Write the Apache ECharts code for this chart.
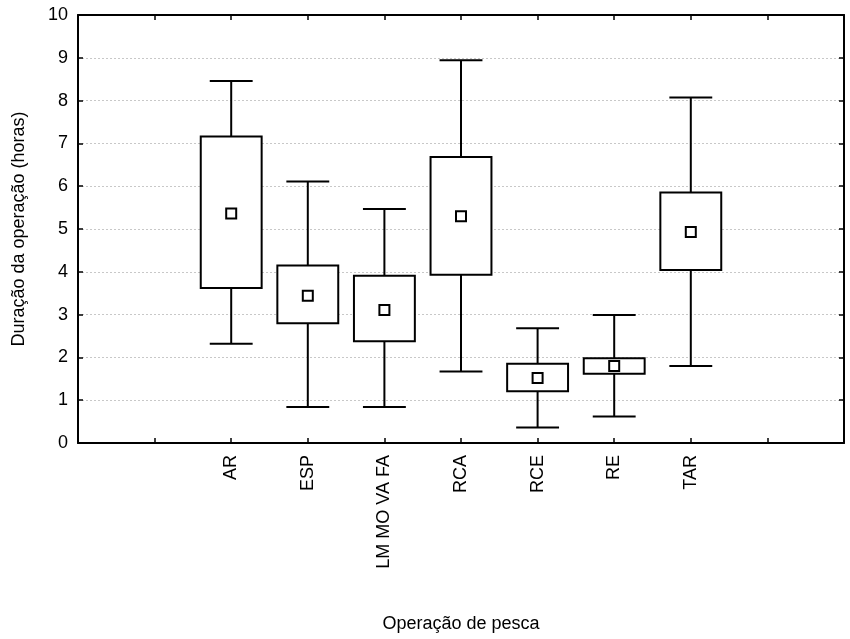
<!DOCTYPE html>
<html>
<head>
<meta charset="utf-8">
<script src="https://cdn.jsdelivr.net/npm/echarts@6/dist/echarts.min.js"></script>
<style>
html,body{margin:0;padding:0;background:#fff;}
#chart{width:850px;height:639px;}
</style>
</head>
<body>
<div id="chart"></div>
<script>
// Data
var categories = ['AR', 'ESP', 'LM MO VA FA', 'RCA', 'RCE', 'RE', 'TAR'];
var whiskerLow  = [2.32, 0.84, 0.84, 1.67, 0.36, 0.62, 1.80];
var boxLow      = [3.62, 2.80, 2.38, 3.93, 1.21, 1.62, 4.04];
var centerMark  = [5.36, 3.44, 3.11, 5.30, 1.52, 1.80, 4.93];
var boxHigh     = [7.16, 4.15, 3.91, 6.68, 1.85, 1.98, 5.85];
var whiskerHigh = [8.46, 6.11, 5.47, 8.94, 2.68, 2.99, 8.07];
var yTicks = [0, 1, 2, 3, 4, 5, 6, 7, 8, 9, 10];

var padBefore = 2, padAfter = 2;
var axisCats = [];
for (var i = 0; i < padBefore; i++) axisCats.push('');
axisCats = axisCats.concat(categories);
for (var j = 0; j < padAfter; j++) axisCats.push('');

var seriesData = categories.map(function (c, k) {
  return [k + padBefore, whiskerLow[k], boxLow[k], centerMark[k], boxHigh[k], whiskerHigh[k]];
});

var FONT = "'Liberation Sans', Arial, sans-serif";
var FS = 18;
var chart = echarts.init(document.getElementById('chart'), null, {renderer: 'canvas'});

function renderItem(params, api) {
  var x = api.value(0);
  var pLo = api.coord([x, api.value(1)]);
  var pQ1 = api.coord([x, api.value(2)]);
  var pMid = api.coord([x, api.value(3)]);
  var pQ3 = api.coord([x, api.value(4)]);
  var pHi = api.coord([x, api.value(5)]);
  var band = api.size([1, 0])[0];
  var bw = band * 0.795;
  var cw = band * 0.56;
  var ms = 10;
  var stroke = {stroke: '#000', lineWidth: 2, fill: null};
  return {
    type: 'group',
    children: [
      {type: 'line', shape: {x1: pLo[0], y1: pLo[1], x2: pHi[0], y2: pHi[1]}, style: stroke},
      {type: 'line', shape: {x1: pLo[0] - cw / 2, y1: pLo[1], x2: pLo[0] + cw / 2, y2: pLo[1]}, style: stroke},
      {type: 'line', shape: {x1: pHi[0] - cw / 2, y1: pHi[1], x2: pHi[0] + cw / 2, y2: pHi[1]}, style: stroke},
      {type: 'rect', shape: {x: pQ3[0] - bw / 2, y: pQ3[1], width: bw, height: pQ1[1] - pQ3[1]},
        style: {stroke: '#000', lineWidth: 2, fill: '#fff'}},
      {type: 'rect', shape: {x: pMid[0] - ms / 2, y: pMid[1] - ms / 2, width: ms, height: ms},
        style: {stroke: '#000', lineWidth: 2, fill: '#fff'}}
    ]
  };
}

var tickStyle = {show: true, inside: true, length: 5, lineStyle: {color: '#000', width: 1.5}};

var option = {
  backgroundColor: '#fff',
  animation: false,
  textStyle: {fontFamily: FONT, color: '#000'},
  grid: {left: 78, right: 6, top: 15, bottom: 196, containLabel: false},
  xAxis: [{
    type: 'category',
    data: axisCats,
    boundaryGap: false,
    position: 'bottom',
    name: 'Operação de pesca',
    nameLocation: 'middle',
    nameGap: 172,
    nameTextStyle: {fontFamily: FONT, fontSize: FS, color: '#000'},
    axisLine: {onZero: false, lineStyle: {color: '#000', width: 2}},
    axisTick: Object.assign({interval: 0}, tickStyle),
    axisLabel: {rotate: 90, interval: 0, fontFamily: FONT, fontSize: FS, color: '#000', margin: 12},
    splitLine: {show: false}
  }, {
    type: 'category',
    data: axisCats,
    boundaryGap: false,
    position: 'top',
    axisLine: {onZero: false, lineStyle: {color: '#000', width: 2}},
    axisTick: Object.assign({interval: 0}, tickStyle),
    axisLabel: {show: false},
    splitLine: {show: false}
  }],
  yAxis: [{
    type: 'value',
    min: yTicks[0],
    max: yTicks[yTicks.length - 1],
    interval: 1,
    position: 'left',
    name: 'Duração da operação (horas)',
    nameLocation: 'middle',
    nameGap: 50,
    nameTextStyle: {fontFamily: FONT, fontSize: FS, color: '#000'},
    axisLine: {show: true, onZero: false, lineStyle: {color: '#000', width: 2}},
    axisTick: tickStyle,
    axisLabel: {fontFamily: FONT, fontSize: FS, color: '#000', margin: 10},
    splitLine: {show: true, lineStyle: {color: '#c8c8c8', type: [2, 2], width: 1}}
  }, {
    type: 'value',
    min: yTicks[0],
    max: yTicks[yTicks.length - 1],
    interval: 1,
    position: 'right',
    axisLine: {show: true, onZero: false, lineStyle: {color: '#000', width: 2}},
    axisTick: tickStyle,
    axisLabel: {show: false},
    splitLine: {show: false}
  }],
  series: [{
    type: 'custom',
    name: 'Duração',
    xAxisIndex: 0,
    yAxisIndex: 0,
    renderItem: renderItem,
    encode: {x: 0, y: [1, 2, 3, 4, 5]},
    data: seriesData,
    z: 5
  }]
};
chart.setOption(option);
</script>
</body>
</html>
